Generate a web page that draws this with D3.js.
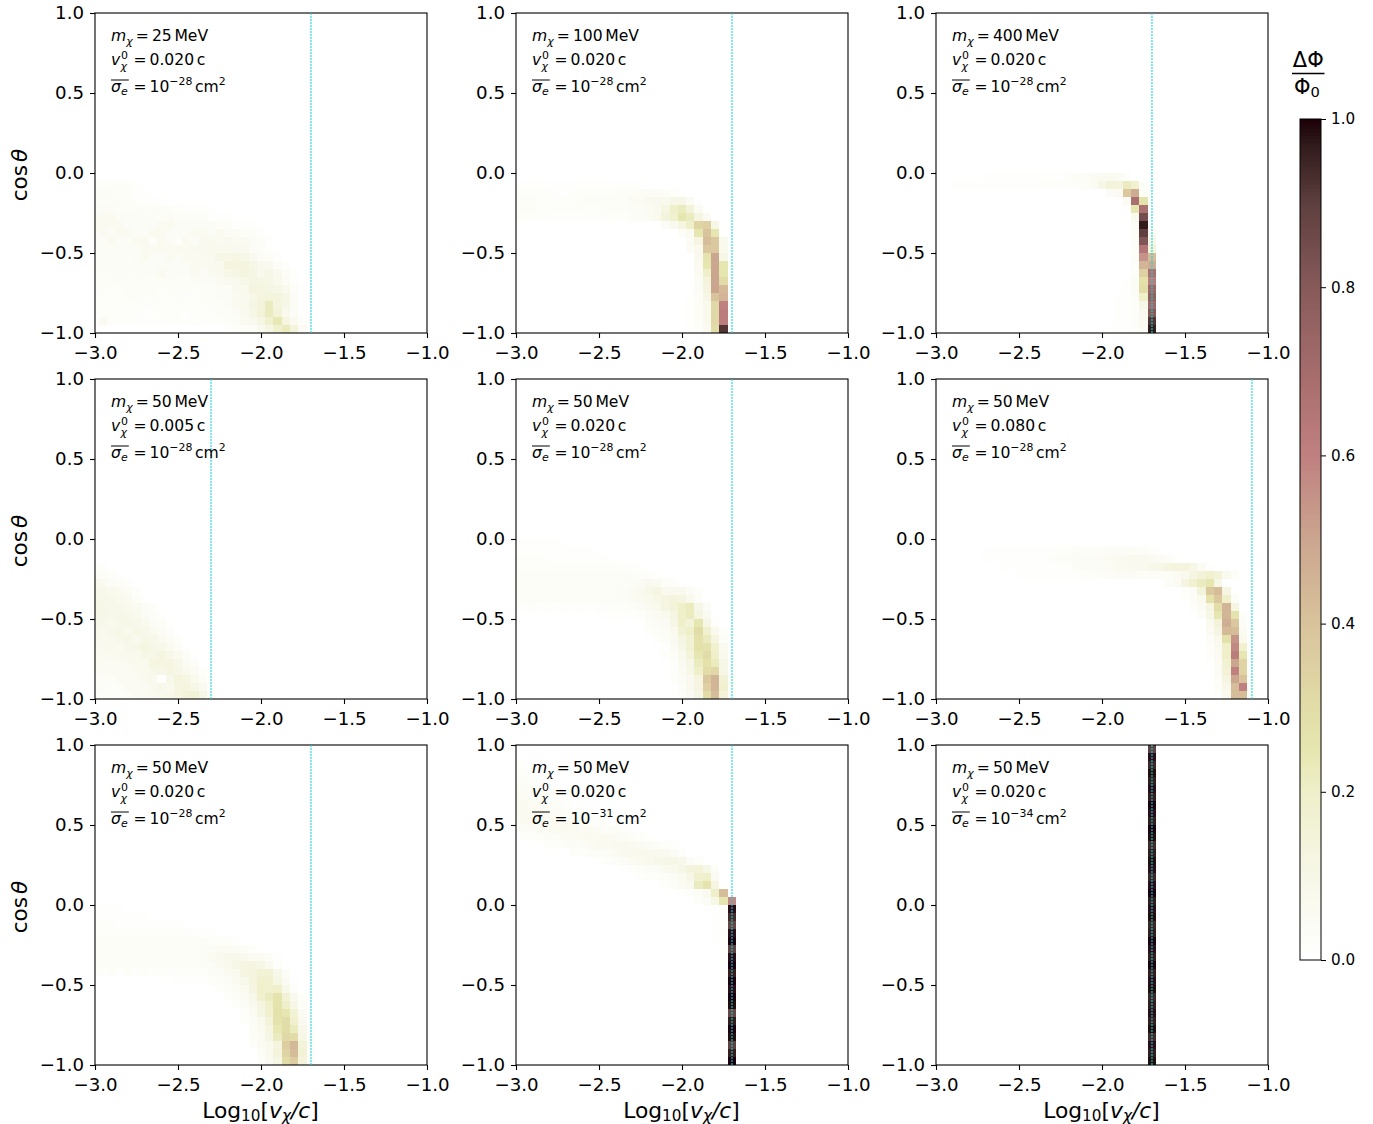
<!DOCTYPE html>
<html><head><meta charset="utf-8">
<script src="https://cdn.jsdelivr.net/npm/d3@7/dist/d3.min.js"></script>
<style>html,body{margin:0;background:#fff}svg{display:block}text{font-family:"DejaVu Sans";fill:#000}</style>
</head><body><svg id="c" width="1373" height="1124"></svg>
<script>
const masses=[25,100,400,50,50,50,50,50,50];
const speeds=[0.020,0.020,0.020,0.005,0.020,0.080,0.020,0.020,0.020];
const sigmaExps=[-28,-28,-28,-28,-28,-28,-28,-31,-34];
const xTicks=[-3,-2.5,-2,-1.5,-1];
const yTicks=[-1,-0.5,0,0.5,1];
const cbTicks=[0,0.2,0.4,0.6,0.8,1];
const cmapPos=[0,.1,.2,.25,.3,.4,.5,.6,.7,.8,.9,.97,1];
const cmapCol=["#ffffff","#f7f7e8","#efefca","#e6e6b0","#e2dda8","#d9c39c","#cba68f","#c08080","#a56c6c","#875a5a","#5e3f3f","#301a1a","#1c0008"];
// rows: [row index from cos=-1, first column index from log v=-3, values in hundredths...]
const p1=[[0,16,1,2,3,4,7,11,18,22,14,5,1],
[1,0,2,6,2,2,2,1,1,1,1,2,2,1,2,1,2,2,3,3,6,7,11,18,24,12,6,2],
[2,0,2,2,2,2,2,2,1,1,2,2,2,1,2,2,2,3,3,4,7,10,15,22,15,8,4,1],
[3,0,2,2,2,2,2,2,2,2,2,2,2,2,2,2,3,3,4,6,8,11,14,22,13,10,4,1],
[4,0,2,2,2,2,3,3,2,3,2,2,3,2,2,3,3,4,4,6,7,10,13,14,13,10,4,1],
[5,0,2,3,2,2,3,3,3,3,2,3,2,3,2,3,3,4,4,7,8,13,13,11,10,8,3,1],
[6,0,3,3,3,3,3,3,3,3,3,3,3,3,4,4,4,6,7,8,10,11,11,10,8,4,1],
[7,0,3,3,3,4,3,3,4,4,6,3,4,4,6,4,6,7,10,11,13,11,8,10,7,3,1],
[8,0,4,3,4,3,3,4,4,4,4,4,4,4,6,6,7,8,13,13,13,10,7,6,3,1],
[9,0,4,4,3,4,3,4,6,4,4,6,4,6,6,6,7,10,10,11,10,7,4,3,1],
[10,0,4,4,4,4,4,4,6,6,6,6,6,6,7,7,8,8,8,7,7,4,3,1],
[11,0,4,4,6,4,3,6,6,2,6,4,2,6,4,7,8,6,7,6,6,4,3,1],
[12,0,4,6,4,6,6,4,4,6,6,4,4,4,6,6,4,6,4,4,3,3,1],
[13,0,6,6,6,6,4,4,4,4,6,6,4,4,4,4,4,3,3,1,1,1],
[14,0,4,6,6,4,4,4,3,4,3,4,3,3,3,3,1,1,1],
[15,0,4,4,4,3,3,3,3,3,3,3,2,1,1,1,1],
[16,0,3,3,3,3,3,2,1,1,1],[17,0,3,4,3,3,3,1,1],[18,0,2,2,2,3,2,1]];
const p2=[[0,21,1,2,6,30,92],[1,21,1,3,8,32,62],[2,21,1,3,8,32,62],[3,21,1,3,8,32,60],
[4,21,1,3,10,40,45],[5,22,4,12,50,43],[6,22,4,14,50,30],[7,22,5,20,50,25],[8,22,6,25,50,25,3],[9,22,7,27,50,10],
[10,21,4,8,38,38,8],[11,21,5,12,42,38,8],[12,20,3,5,25,40,25],[13,18,4,7,12,20,33,35,10],[14,0,2,2,2,2,1,1,1,1,1,2,2,2,2,2,3,4,5,8,14,18,25,22,12,5],
[15,0,3,3,3,2,2,2,2,2,2,2,2,3,3,3,4,4,5,7,12,20,22,15,5],[16,0,3,3,3,2,2,2,2,2,3,3,3,3,3,3,5,5,7,7,8,10,10,5,1],
[17,0,2,2,2,2,2,1,1,2,2,2,2,2,2,3,3,4,4,4,3,2,1],[18,0,1,1,1,1,1,1,1,1,1,1,1,1,1,1,1,1]];
const p3=[[0,21,1,1,1,2,5,97],[1,22,1,1,2,6,92],[2,22,1,1,2,7,80],[3,22,1,1,2,10,72],[4,22,1,1,3,20,76],
[5,23,1,4,30,72],[6,23,1,4,28,62],[7,24,2,35,68],[8,24,2,45,48],[9,24,3,55,42],[10,24,2,65,15],[11,24,3,82,10],
[12,24,3,90,5],[13,24,4,97,2],[14,24,8,85],[15,23,1,25,68],[16,23,5,68,27],[17,21,4,5,38,48,3],
[18,2,1,1,1,1,1,1,1,1,1,1,1,2,2,2,2,2,3,5,10,15,14,22,18,3],[19,6,1,1,1,1,1,1,1,1,1,1,2,3,3,5,6,6,5,2]];
const p4=[[0,0,2,2,2,2,3,5,5,6,8,9,12,15,16,10,4],[1,0,3,3,2,3,5,5,5,8,9,8,12,13,10,6,2],[2,0,3,3,3,5,5,5,8,8,1,9,13,12,8,3,1],
[3,0,5,5,5,5,5,6,8,9,10,12,10,8,5,2],[4,0,6,5,5,5,6,8,8,12,12,12,9,5,3],[5,0,6,6,6,8,8,8,10,10,12,9,6,3,1],
[6,0,6,8,8,6,9,10,12,10,9,6,3,1],[7,0,8,8,8,9,10,8,10,9,6,4,2],[8,0,9,8,9,10,8,10,9,6,4,2],[9,0,10,9,8,9,10,9,8,4,3,1],
[10,0,10,10,9,10,9,8,4,3,1],[11,0,10,10,9,9,8,6,4,2],[12,0,10,9,9,8,6,3,1],[13,0,9,9,8,6,4,2],[14,0,8,6,4,3,2],[15,0,4,3,2],[16,0,2,2]];
const p5=[[0,20,2,5,10,30,42,15,2],[1,20,3,7,12,35,45,18,3],[2,19,2,4,7,12,38,45,16,3],[3,19,2,5,10,20,30,32,10,2],
[4,19,2,6,10,22,28,22,10,2],[5,18,2,3,8,14,25,30,20,8],[6,18,1,5,10,17,28,27,18,6],[7,17,2,3,6,12,17,28,22,12,3],
[8,16,2,3,4,8,17,20,30,18,8,2],[9,16,3,4,5,10,20,15,25,10,2],[10,10,1,1,1,1,1,2,4,5,8,12,20,22,12,6,1],
[11,0,2,1,2,1,2,1,2,1,2,1,2,2,2,2,3,4,6,8,12,15,20,22,10,4],[12,0,3,3,3,3,3,3,3,3,3,3,3,3,3,3,5,6,8,10,12,14,12,8,3],
[13,0,3,3,3,3,3,3,3,3,3,3,3,3,3,4,5,7,10,12,8,7,7,4,2],[14,0,3,3,3,3,3,3,3,3,3,3,3,3,3,3,4,5,7,6,3,2],
[15,0,3,3,3,3,3,3,3,3,3,3,3,3,3,3,3,2,2,1],[16,0,2,2,2,2,2,2,2,2,2,2,2,2,2,2,1,1],[17,0,2,2,2,2,1,1,1,1,1,1,1,1],
[18,0,1,1,1,1,1,1,1,1,1,1],[19,0,1,1,1,1,1,1]];
const p6=[[0,34,1,6,42,42,3],[1,34,3,9,42,60,3],[2,34,3,12,50,40,2],[3,34,4,16,60,33,1],[4,33,1,5,17,50,33,1],
[5,33,2,5,20,62,25,1],[6,33,2,6,20,58,18,1],[7,33,3,8,28,55,8],[8,33,5,12,43,42,5],[9,33,8,15,47,38,3],
[10,32,3,10,25,45,27,2],[11,31,2,5,12,30,45,12],[12,30,1,3,8,28,38,20,3],[13,30,2,4,15,38,42,12],[14,28,3,5,12,18,22,25,10],
[15,10,1,1,1,1,1,1,1,1,2,2,3,3,4,4,4,3,3,3,3,5,7,12,15,18,15,8,3],[16,8,1,1,1,1,1,1,1,1,2,3,4,4,4,5,6,6,7,7,9,10,12,13,13,10,5,1],
[17,6,1,1,1,1,1,1,1,1,2,3,3,4,4,4,5,5,6,7,8,7,6,5,3,1],[18,6,1,1,1,1,1,1,1,1,1,2,2,3,3,3,3,4,4,4,4,3,2,1]];
const p7=[[0,20,2,6,11,30,36,14,2],[1,20,3,7,14,34,42,16,3],[2,19,2,5,8,13,36,44,15,3],[3,19,3,5,11,22,32,30,10,2],
[4,19,3,6,12,24,30,22,9,2],[5,18,2,4,8,15,27,30,18,7],[6,18,2,5,11,18,28,25,16,5],[7,17,2,3,7,12,19,26,20,10,3],
[8,16,2,3,5,9,18,22,26,16,7,2],[9,15,2,3,4,6,12,20,18,20,9,2],[10,10,1,1,1,1,2,3,4,6,9,13,18,18,11,5,1],
[11,0,2,1,2,1,2,1,2,1,2,1,2,2,2,2,3,4,6,8,12,14,16,16,9,3],[12,0,3,3,3,3,3,3,3,3,3,3,3,3,3,3,4,6,8,10,12,12,10,6,2],
[13,0,3,3,3,3,3,3,3,3,3,3,3,3,3,4,6,7,9,9,7,5,5,3,1],[14,0,3,3,3,3,3,3,3,3,3,3,3,3,3,4,4,5,5,4,3,2],
[15,0,3,3,3,3,3,3,3,3,3,3,3,3,3,3,2,2,2,1],[16,0,2,2,2,2,2,2,2,2,2,2,2,2,1,1,1],[17,0,2,2,2,1,1,1,1,1,1,1,1],
[18,0,1,1,1,1,1,1,1],[19,0,1,1,1,1]];
const p8=[[0,25,1,100],[1,25,1,96],[2,25,1,90],[3,25,1,99],[4,25,1,100],[5,25,1,97],[6,25,1,88],[7,25,1,99],[8,25,1,100],[9,25,1,98],
[10,25,1,100],[11,25,1,96],[12,25,1,100],[13,25,1,98],[14,25,1,90],[15,24,1,1,100],[16,24,1,1,98],[17,24,1,1,88],[18,24,1,1,94],[19,23,1,1,2,98],
[20,22,2,4,10,25,58],[21,20,1,2,3,6,20,42],[22,18,2,3,5,8,22,26,12],[23,15,1,2,2,3,4,6,10,18,20,5],[24,13,1,2,3,4,4,6,8,10,14,15,10,3],
[25,10,1,2,3,4,5,6,8,9,10,10,9,4,2],[26,7,2,2,3,3,4,5,7,8,8,8,8,7,4,2],[27,4,2,2,3,3,4,5,6,6,7,7,6,5,4,3,2,1],[28,1,2,2,3,3,4,5,5,6,6,6,6,5,4,3,2,1],
[29,0,3,4,4,5,5,6,6,6,5,5,4,3,3,2,1],[30,0,5,6,6,6,6,5,5,4,3,2,2,1],[31,0,6,6,6,5,5,4,3,2,2,1],[32,0,6,6,5,4,3,3,2,1],[33,0,6,5,4,3,2,2,1],[34,0,5,4,3,2,2,1],[35,0,4,3,2,1],[36,0,3,2,1],[37,0,2,1]];
const p9=[[0,26,99],[1,26,97],[2,26,98],[3,26,94],[4,26,99],[5,26,96],[6,26,98],[7,26,97],[8,26,95],[9,26,99],
[10,26,98],[11,26,96],[12,26,100],[13,26,97],[14,26,98],[15,26,100],[16,26,97],[17,26,95],[18,26,99],[19,26,98],
[20,26,97],[21,26,100],[22,26,98],[23,26,95],[24,26,98],[25,26,99],[26,26,97],[27,26,94],[28,26,99],[29,26,100],
[30,26,97],[31,26,98],[32,26,100],[33,26,96],[34,26,98],[35,26,97],[36,26,99],[37,26,95],[38,26,98],[39,26,90]];
const panels=[p1,p2,p3,p4,p5,p6,p7,p8,p9];

const colX=[95,516,936],rowY=[13,379,745],W=332,H=320;
const svg=d3.select("#c");
const defs=svg.append("defs");
defs.append("filter").attr("id","soft").attr("x","-5%").attr("y","-5%").attr("width","110%").attr("height","110%")
  .append("feGaussianBlur").attr("stdDeviation",0.45);
const cmap=d3.scaleLinear().domain(cmapPos).range(cmapCol).interpolate(d3.interpolateRgb).clamp(true);
const xS=d3.scaleLinear().domain([-3,-1]).range([0,W]);
const yS=d3.scaleLinear().domain([-1,1]).range([H,0]);
const fmt=d=>d3.format(".1f")(d).replace("-","\u2212");

function rich(g,x,y,size,runs,attrs){
  const t=g.append("text").attr("x",x).attr("y",y).attr("font-size",size);
  if(attrs)Object.entries(attrs).forEach(([k,v])=>t.attr(k,v));
  let base=0;
  runs.forEach(r=>{
    const s=t.append("tspan").text(r.t).attr("font-size",size*(r.s||1));
    if(r.i)s.attr("font-style","italic");
    const target=r.b||0;
    s.attr("dy",target-base);base=target;
    if(r.dx)s.attr("dx",r.dx);
  });
  return t;
}
panels.forEach((rows,i)=>{
  const col=i%3,row=Math.floor(i/3);
  const g=svg.append("g").attr("transform",`translate(${colX[col]},${rowY[row]})`);
  const id="clip"+i;
  defs.append("clipPath").attr("id",id).append("rect").attr("width",W).attr("height",H);
  const cells=rows.flatMap(r=>r.slice(2).map((v,k)=>({j:r[0],c:r[1]+k,v:v/100}))).filter(d=>d.v>0);
  const plot=g.append("g").attr("clip-path",`url(#${id})`);
  plot.append("g").attr("filter","url(#soft)").selectAll("rect").data(cells).join("rect")
    .attr("shape-rendering","crispEdges")
    .attr("x",d=>xS(-3+0.05*d.c-0.025)).attr("y",d=>yS(-1+0.05*d.j+0.05))
    .attr("width",xS(-3+0.05)-xS(-3)).attr("height",yS(-1)-yS(-1+0.05))
    .attr("fill",d=>cmap(d.v));
  // axes
  const ax=g.append("g").attr("transform",`translate(0,${H})`).call(d3.axisBottom(xS).tickValues(xTicks).tickFormat(fmt).tickSize(5).tickPadding(8));
  const ay=g.append("g").call(d3.axisLeft(yS).tickValues(yTicks).tickFormat(fmt).tickSize(5).tickPadding(6));
  [ax,ay].forEach(a=>{a.attr("font-family",null).attr("font-size",null);
    a.selectAll("text").attr("font-size",18.2).style("font-family","DejaVu Sans");
    a.selectAll("line").attr("stroke","#000").attr("stroke-width",1.1);
    a.select(".domain").attr("stroke","none");});
  g.append("rect").attr("width",W).attr("height",H).attr("fill","none").attr("stroke","#000").attr("stroke-width",1.1);
  // threshold line
  const vx=xS(Math.log10(speeds[i]));
  g.append("path").attr("d",d3.line()([[vx,0],[vx,H]]))
    .attr("fill","none").attr("stroke","#10d6de").attr("opacity",0.75).attr("stroke-width",1.4).attr("stroke-dasharray","2,1");
  // annotation
  const S=15.6,ax0=16;
  rich(g,ax0,28,S,[{t:"m",i:1},{t:"\u03c7",i:1,s:.7,b:3.5},{t:"=",dx:3.2},{t:String(masses[i]),dx:3},{t:"MeV",dx:2.6}]);
  rich(g,ax0,52,S,[{t:"v",i:1}]);
  rich(g,ax0+10,46,S*.7,[{t:"0"}]);
  rich(g,ax0+9.6,56.5,S*.7,[{t:"\u03c7",i:1}]);
  rich(g,ax0+22.6,52,S,[{t:"="},{t:speeds[i].toFixed(3),dx:2.8},{t:"c",dx:2.6}]);
  rich(g,ax0,78.6,S,[{t:"\u03c3",i:1},{t:"e",i:1,s:.7,b:3.5}]);
  g.append("line").attr("x1",ax0).attr("x2",ax0+17.8).attr("y1",67).attr("y2",67).attr("stroke","#000").attr("stroke-width",1);
  rich(g,ax0+22.6,78.6,S,[{t:"="},{t:"10",dx:2.8},{t:"\u2212"+Math.abs(sigmaExps[i]),s:.7,b:-6.5},{t:"cm",dx:2.6,b:0},{t:"2",s:.7,b:-6.5}]);
  if(col===0) g.append("g").attr("transform",`translate(${-68.5},${H/2+2}) rotate(-90)`).call(s=>{
    rich(s,0,0,21.6,[{t:"cos"},{t:"\u03b8",i:1,dx:3}],{"text-anchor":"middle"});});
  if(row===2) rich(g,W/2-0.5,372.7,21.8,[{t:"Log"},{t:"10",s:.7,b:3},{t:"["},{t:"v",i:1},{t:"\u03c7",i:1,s:.7,b:3},{t:"/",i:1},{t:"c",i:1},{t:"]"}],{"text-anchor":"middle"});
});
// colorbar
const cbX=1300,cbW=21,cbTop=119,cbBot=960;
const cbY=d3.scaleLinear().domain([0,1]).range([cbBot,cbTop]);
const cb=svg.append("g");
const steps=d3.range(0,256);
cb.selectAll("rect").data(steps).join("rect").attr("shape-rendering","crispEdges")
  .attr("x",cbX).attr("width",cbW).attr("y",d=>cbY((d+1)/256)).attr("height",(cbBot-cbTop)/256+.6)
  .attr("fill",d=>cmap((d+.5)/256));
cb.append("rect").attr("x",cbX).attr("y",cbTop).attr("width",cbW).attr("height",cbBot-cbTop).attr("fill","none").attr("stroke","#000").attr("stroke-width",1);
const cbA=svg.append("g").attr("transform",`translate(${cbX+cbW},0)`).call(d3.axisRight(cbY).tickValues(cbTicks).tickFormat(d3.format(".1f")).tickSize(5).tickPadding(5));
cbA.attr("font-family",null).attr("font-size",null);
cbA.selectAll("text").attr("font-size",15.2).style("font-family","DejaVu Sans");
cbA.selectAll("line").attr("stroke","#000").attr("stroke-width",1);
cbA.select(".domain").attr("stroke","none");
// colorbar title
svg.append("text").attr("x",1308.3).attr("y",66.7).attr("text-anchor","middle").attr("font-size",21).text("\u0394\u03a6");
svg.append("line").attr("x1",1292).attr("x2",1324.5).attr("y1",73.5).attr("y2",73.5).attr("stroke","#000").attr("stroke-width",1.6);
rich(svg,1294,93.5,21,[{t:"\u03a6"},{t:"0",s:.7,b:3}]);
</script></body></html>
